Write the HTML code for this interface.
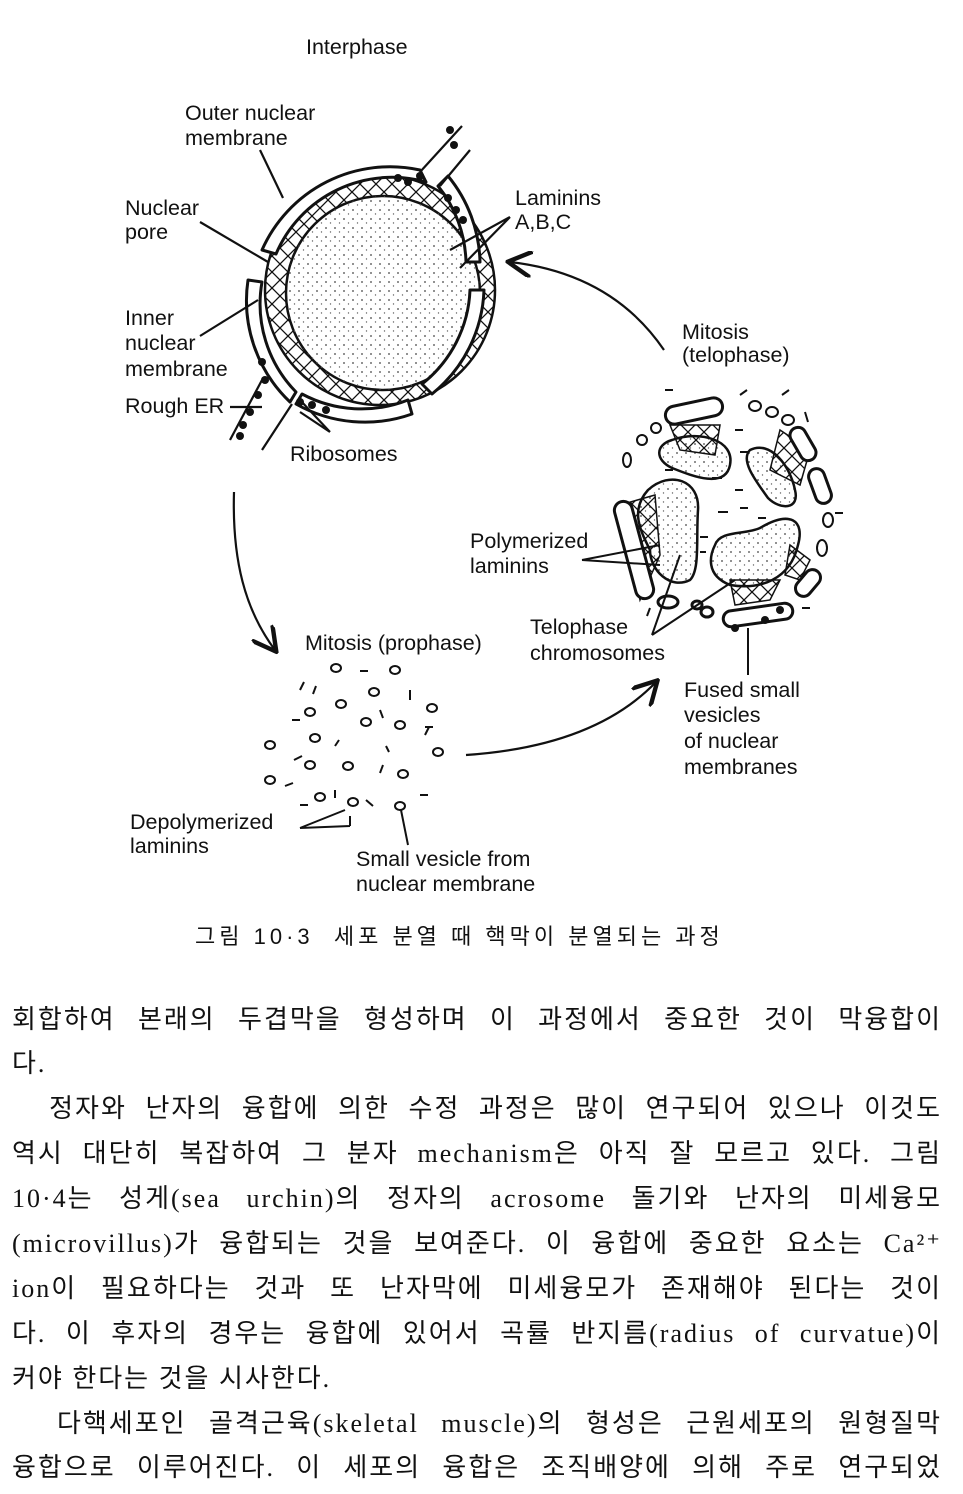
<!DOCTYPE html>
<html><head><meta charset="utf-8"><style>
body{margin:0;width:963px;height:1494px;background:#fff;overflow:hidden;position:relative;font-family:"Liberation Sans","Noto Sans CJK KR",sans-serif;color:#111}
svg{position:absolute;left:0;top:0}
.t{font-family:"Liberation Sans",sans-serif;font-size:21.5px;fill:#111}
.ln{position:absolute;left:12px;width:930px;font-family:"Liberation Serif","Noto Sans CJK KR",serif;font-size:26px;letter-spacing:2px;line-height:30px;text-align:justify;text-align-last:justify;white-space:nowrap}
.s{text-align-last:left}
</style></head><body>
<svg width="963" height="960" viewBox="0 0 963 960">
<defs>
<pattern id="dots" width="9" height="9" patternUnits="userSpaceOnUse"><circle cx="2" cy="3" r="0.9" fill="#444"/><circle cx="6.5" cy="7" r="0.7" fill="#666"/></pattern>
<pattern id="hatch" width="16" height="16" patternUnits="userSpaceOnUse"><path d="M0 0L16 16M16 0L0 16" stroke="#111" stroke-width="1.3"/></pattern>
<marker id="ah" markerWidth="12" markerHeight="12" refX="10" refY="6" orient="auto"><path d="M0 0L11 6L0 12" fill="none" stroke="#111" stroke-width="2"/></marker>
</defs>
<text class="t" x="306" y="54" font-size="19">Interphase</text>
<text class="t" x="185" y="120">Outer nuclear</text><text class="t" x="185" y="145">membrane</text>
<text class="t" x="125" y="215">Nuclear</text><text class="t" x="125" y="239">pore</text>
<text class="t" x="125" y="325">Inner</text><text class="t" x="125" y="350">nuclear</text><text class="t" x="125" y="376">membrane</text>
<text class="t" x="125" y="413">Rough ER</text>
<text class="t" x="290" y="461">Ribosomes</text>
<text class="t" x="515" y="205">Laminins</text><text class="t" x="515" y="229">A,B,C</text>
<text class="t" x="682" y="339">Mitosis</text><text class="t" x="682" y="362">(telophase)</text>
<text class="t" x="470" y="548">Polymerized</text><text class="t" x="470" y="573">laminins</text>
<text class="t" x="530" y="634">Telophase</text><text class="t" x="530" y="660">chromosomes</text>
<text class="t" x="305" y="650">Mitosis (prophase)</text>
<text class="t" x="684" y="697">Fused small</text><text class="t" x="684" y="722">vesicles</text><text class="t" x="684" y="748">of nuclear</text><text class="t" x="684" y="774">membranes</text>
<text class="t" x="130" y="829">Depolymerized</text><text class="t" x="130" y="853">laminins</text>
<text class="t" x="356" y="866">Small vesicle from</text><text class="t" x="356" y="891">nuclear membrane</text>
<text x="195" y="944" font-size="22" letter-spacing="4" font-family="Liberation Sans,Noto Sans CJK KR,sans-serif" fill="#111">그림 10·3 &#160;세포 분열 때 핵막이 분열되는 과정</text>
<!-- nucleus -->
<circle cx="380" cy="290" r="115" fill="url(#hatch)"/>
<circle cx="380" cy="290" r="115" fill="none" stroke="#111" stroke-width="2.5"/>
<circle cx="383" cy="293" r="97" fill="#fff" stroke="#111" stroke-width="2.5"/>
<circle cx="383" cy="293" r="97" fill="url(#dots)"/>
<g fill="#fff" stroke="#111" stroke-width="3" stroke-linejoin="round">
<path d="M262 250 A140 140 0 0 1 420 170 L426 182 A126 126 0 0 0 276 254 Z"/>
<path d="M248 280 A140 140 0 0 0 290 402 L296 392 A126 126 0 0 1 262 282 Z"/>
<path d="M296 404 A140 140 0 0 0 412 414 L408 400 A126 126 0 0 1 302 394 Z"/>
<path d="M432 394 A140 140 0 0 0 484 290 L470 290 A126 126 0 0 1 422 384 Z"/>
<path d="M448 176 A140 140 0 0 1 480 262 L466 262 A126 126 0 0 0 438 186 Z"/>
</g>
<g stroke="#111" stroke-width="2.2" fill="none">
<path d="M420 172 L462 126 M440 186 L470 150 M262 380 L230 440 M292 404 L262 450"/>
<path d="M283 198 L260 150 M200 222 L268 262 M200 336 L258 300 M230 407 L262 407 M300 400 L330 432 M300 412 L330 432 M510 217 L450 250 M510 217 L460 268"/>
</g>
<g fill="#111"><circle cx="398" cy="178" r="4"/><circle cx="408" cy="182" r="4"/><circle cx="420" cy="176" r="4"/><circle cx="450" cy="130" r="4"/><circle cx="454" cy="145" r="4"/><circle cx="448" cy="198" r="4"/><circle cx="456" cy="210" r="4"/><circle cx="463" cy="220" r="4"/><circle cx="262" cy="362" r="4"/><circle cx="265" cy="380" r="4"/><circle cx="258" cy="395" r="4"/><circle cx="250" cy="412" r="4"/><circle cx="243" cy="425" r="4"/><circle cx="240" cy="436" r="4"/><circle cx="300" cy="402" r="4"/><circle cx="312" cy="405" r="4"/><circle cx="326" cy="410" r="4"/></g>
<!-- arrows -->
<path d="M234 492 C232 560 245 610 275 650" fill="none" stroke="#111" stroke-width="2.2" marker-end="url(#ah)"/>
<path d="M466 755 C540 750 610 730 656 682" fill="none" stroke="#111" stroke-width="2.2" marker-end="url(#ah)"/>
<path d="M664 350 C630 300 580 270 510 262" fill="none" stroke="#111" stroke-width="2.2" marker-end="url(#ah)"/>
<!-- prophase scatter -->
<g fill="none" stroke="#111" stroke-width="2">
<ellipse cx="336" cy="668" rx="5" ry="4"/><ellipse cx="395" cy="670" rx="5" ry="4"/><ellipse cx="374" cy="692" rx="5" ry="4"/><ellipse cx="310" cy="712" rx="5" ry="4"/><ellipse cx="341" cy="704" rx="5" ry="4"/><ellipse cx="432" cy="708" rx="5" ry="4"/><ellipse cx="366" cy="722" rx="5" ry="4"/><ellipse cx="400" cy="725" rx="5" ry="4"/><ellipse cx="270" cy="745" rx="5" ry="4"/><ellipse cx="315" cy="738" rx="5" ry="4"/><ellipse cx="438" cy="752" rx="5" ry="4"/><ellipse cx="310" cy="765" rx="5" ry="4"/><ellipse cx="348" cy="766" rx="5" ry="4"/><ellipse cx="270" cy="780" rx="5" ry="4"/><ellipse cx="403" cy="774" rx="5" ry="4"/><ellipse cx="320" cy="797" rx="5" ry="4"/><ellipse cx="353" cy="802" rx="5" ry="4"/><ellipse cx="400" cy="806" rx="5" ry="4"/>
<path d="M360 671h8M300 690l4 -8M316 686l-3 8M410 690v10M380 710l3 8M425 727h8M425 735l4 -8M292 720h8M335 746l4-6M386 746l3 6M294 760l8-4M380 773l3-8M285 786l8-3M300 805h8M335 790v8M366 800l7 6M300 828l45 -18M300 828l50 -2M350 826v-10M408 845l-7-35M420 795h8"/>
</g>
<!-- telophase -->
<g fill="url(#dots)" stroke="#111" stroke-width="2.5">
<path d="M672 440 C700 430 735 440 730 465 C725 490 690 475 672 468 C655 460 655 445 672 440Z"/>
<path d="M750 450 C770 440 790 465 795 490 C800 510 780 510 768 498 C755 480 740 460 750 450Z"/>
<path d="M648 490 C670 470 700 480 698 510 C696 540 700 570 690 580 C670 590 650 570 650 550 C640 530 630 510 648 490Z"/>
<path d="M715 545 C720 530 745 535 760 528 C790 510 805 520 798 545 C790 580 760 590 730 585 C705 575 710 555 715 545Z"/>
</g>
<g fill="url(#hatch)" stroke="#111" stroke-width="1.5">
<path d="M670 425 L720 425 L715 455 L680 450Z"/><path d="M620 505 L655 495 L660 555 L640 600Z"/><path d="M730 580 L780 580 L770 600 L735 605Z"/><path d="M780 430 L810 450 L800 485 L770 470Z"/><path d="M790 545 L810 560 L800 580 L785 575Z"/>
</g>
<g fill="#fff" stroke="#111" stroke-width="3">
<rect x="665" y="402" width="58" height="18" rx="9" transform="rotate(-12 694 411)"/>
<rect x="625" y="500" width="18" height="100" rx="9" transform="rotate(-15 634 550)"/>
<rect x="723" y="607" width="70" height="16" rx="8" transform="rotate(-8 758 615)"/>
<rect x="795" y="426" width="16" height="36" rx="8" transform="rotate(-30 803 444)"/>
<rect x="812" y="468" width="16" height="36" rx="8" transform="rotate(-20 820 486)"/>
<rect x="800" y="568" width="16" height="30" rx="8" transform="rotate(40 808 583)"/>
<ellipse cx="668" cy="602" rx="10" ry="6"/><ellipse cx="697" cy="605" rx="5" ry="4"/><ellipse cx="707" cy="612" rx="6" ry="5"/>
</g>
<g fill="none" stroke="#111" stroke-width="2">
<ellipse cx="627" cy="460" rx="4" ry="7"/><ellipse cx="642" cy="440" rx="5" ry="5"/><ellipse cx="656" cy="428" rx="5" ry="5"/><ellipse cx="755" cy="406" rx="6" ry="5"/><ellipse cx="772" cy="412" rx="6" ry="5"/><ellipse cx="788" cy="420" rx="6" ry="5"/><ellipse cx="828" cy="520" rx="5" ry="7"/><ellipse cx="822" cy="548" rx="5" ry="8"/>
<path d="M665 390h8M740 395l7-5M782 395l7-5M805 412l3 10M735 430h8M740 452h8M665 470h8M712 478h10M735 490h8M718 512h10M740 508h8M758 518h8M700 537h8M650 608l-3 8M802 608h8M835 513h8M700 552h6"/>
<path d="M582 560L660 565M582 560L660 545M652 635L680 555M652 635L735 580M748 628V675"/>
</g>
<g fill="#111"><circle cx="735" cy="628" r="4"/><circle cx="765" cy="620" r="4"/><circle cx="780" cy="610" r="4"/></g>
</svg>
<div class="ln" style="top:1005px">회합하여 본래의 두겹막을 형성하며 이 과정에서 중요한 것이 막융합이</div>
<div class="ln s" style="top:1049px">다.</div>
<div class="ln" style="top:1094px">&#160;&#160;정자와 난자의 융합에 의한 수정 과정은 많이 연구되어 있으나 이것도</div>
<div class="ln" style="top:1139px">역시 대단히 복잡하여 그 분자 mechanism은 아직 잘 모르고 있다. 그림</div>
<div class="ln" style="top:1184px">10·4는 성게(sea urchin)의 정자의 acrosome 돌기와 난자의 미세융모</div>
<div class="ln" style="top:1229px">(microvillus)가 융합되는 것을 보여준다. 이 융합에 중요한 요소는 Ca²⁺</div>
<div class="ln" style="top:1274px">ion이 필요하다는 것과 또 난자막에 미세융모가 존재해야 된다는 것이</div>
<div class="ln" style="top:1319px">다. 이 후자의 경우는 융합에 있어서 곡률 반지름(radius of curvatue)이</div>
<div class="ln s" style="top:1364px">커야 한다는 것을 시사한다.</div>
<div class="ln" style="top:1409px">&#160;&#160;다핵세포인 골격근육(skeletal muscle)의 형성은 근원세포의 원형질막</div>
<div class="ln" style="top:1453px">융합으로 이루어진다. 이 세포의 융합은 조직배양에 의해 주로 연구되었</div>
</body></html>
